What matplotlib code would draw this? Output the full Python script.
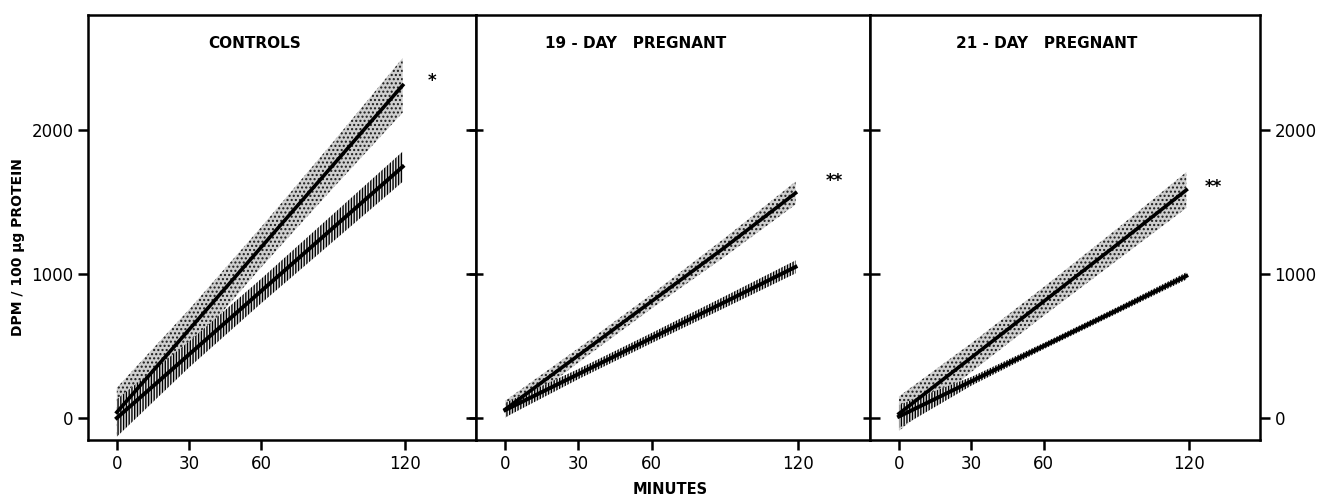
import matplotlib
matplotlib.use("Agg")
import matplotlib.pyplot as plt
import numpy as np

plt.rcParams['font.family'] = ['DejaVu Sans']
plt.rcParams['hatch.linewidth'] = 1.0

# ---- data ----
panel_titles = ["CONTROLS", "19 - DAY   PREGNANT", "21 - DAY   PREGNANT"]
time_min = [0, 30, 60, 90, 119]

# upper (stippled) regression line and half-width of its band
upper_mean = [
    [40, 612, 1184, 1756, 2310],
    [60, 435, 810, 1185, 1562],
    [30, 420, 810, 1200, 1583],
]
upper_half = [
    [170, 140, 140, 160, 190],
    [60, 50, 50, 65, 80],
    [120, 100, 100, 110, 125],
]
# lower (vertically hatched) regression line and half-width of its band
lower_mean = [
    [0, 440, 880, 1320, 1745],
    [55, 305, 555, 805, 1049],
    [10, 255, 500, 745, 986],
]
lower_half = [
    [130, 90, 85, 95, 105],
    [50, 35, 35, 40, 45],
    [80, 30, 22, 22, 25],
]
star_x = [131, 135, 130]
star_y = [2340, 1646, 1604]
star_text = ["*", "**", "**"]

x_ticks = [0, 30, 60, 120]
y_ticks = [0, 1000, 2000]
y_tick_labels = ["0", "1000", "2000"]

# ---- figure ----
fig = plt.figure(figsize=(13.19, 5.04), dpi=100)
lefts = [88, 476, 870]
rights = [476, 870, 1260]
W, H = 1319.0, 504.0
bottom_px, top_px = 440, 15
title_xf = [0.43, 0.404, 0.454]

for i in range(3):
    ax = fig.add_axes([lefts[i] / W, 1 - bottom_px / H,
                       (rights[i] - lefts[i]) / W, (bottom_px - top_px) / H])
    t = np.array(time_min)
    um = np.array(upper_mean[i]); uh = np.array(upper_half[i])
    lm = np.array(lower_mean[i]); lh = np.array(lower_half[i])

    ax.fill_between(t, um - uh, um + uh, facecolor='#cfcfcf', edgecolor='#1a1a1a',
                    hatch='....', linewidth=0, zorder=1)
    ax.fill_between(t, lm - lh, lm + lh, facecolor='#e6e6e6', edgecolor='#000000',
                    hatch='||||||', linewidth=0, zorder=2)
    ax.plot(t, um, color='black', lw=2.6, zorder=3)
    ax.plot(t, lm, color='black', lw=2.8, zorder=4)

    ax.text(star_x[i], star_y[i], star_text[i], ha='center', va='center',
            fontsize=12, fontweight='bold')
    ax.text(title_xf[i], 0.934, panel_titles[i], transform=ax.transAxes,
            ha='center', va='center', fontsize=11, fontweight='bold')

    ax.set_xlim(-12, 149.5)
    ax.set_ylim(-153, 2798)
    ax.set_xticks(x_ticks)
    ax.set_xticklabels([str(v) for v in x_ticks], fontsize=12)
    ax.tick_params(axis='x', direction='out', length=7, width=1.8, pad=4)
    ax.set_yticks(y_ticks)
    for s in ax.spines.values():
        s.set_linewidth(1.8)

    if i == 0:
        ax.set_yticklabels(y_tick_labels, fontsize=12)
        ax.tick_params(axis='y', left=True, right=True, labelleft=True,
                       labelright=False, width=1.8, direction='out', length=7)
        for tl in ax.yaxis.get_major_ticks():
            tl.tick2line.set_marker(matplotlib.lines.TICKLEFT)
    elif i == 1:
        ax.tick_params(axis='y', left=True, right=True, labelleft=False,
                       labelright=False, direction='inout', length=10, width=1.8)
    else:
        ax.set_yticklabels(y_tick_labels, fontsize=12)
        ax.tick_params(axis='y', left=True, right=True, labelleft=False,
                       labelright=True, width=1.8, direction='out', length=7)
        for tl in ax.yaxis.get_major_ticks():
            tl.tick1line.set_marker(matplotlib.lines.TICKRIGHT)

fig.text(0.0136, 0.51, "DPM / 100 µg PROTEIN", rotation=90, ha='center',
         va='center', fontsize=10, fontweight='bold')
fig.text(0.508, 0.028, "MINUTES", ha='center', va='center', fontsize=10.5,
         fontweight='bold')

fig.savefig("out.png", dpi=100)
